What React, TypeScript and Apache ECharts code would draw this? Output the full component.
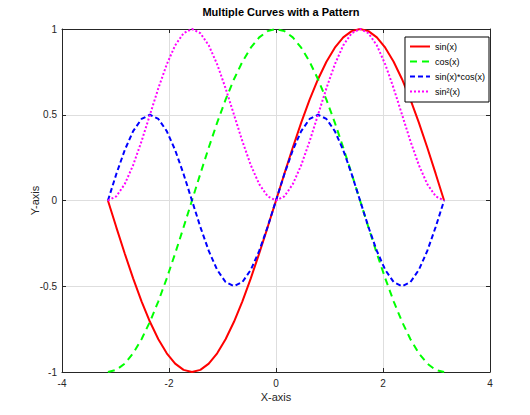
import { useEffect, useRef } from "react";
import * as echarts from "echarts";

// sample points along x, from -pi to pi
const xs = [
  -3.1416, -2.9845, -2.8274, -2.6704, -2.5133, -2.3562, -2.1991, -2.042, -1.885, -1.7279,
  -1.5708, -1.4137, -1.2566, -1.0996, -0.9425, -0.7854, -0.6283, -0.4712, -0.3142, -0.1571,
  0, 0.1571, 0.3142, 0.4712, 0.6283, 0.7854, 0.9425, 1.0996, 1.2566, 1.4137,
  1.5708, 1.7279, 1.885, 2.042, 2.1991, 2.3562, 2.5133, 2.6704, 2.8274, 2.9845, 3.1416,
];

const sinVals = [
  0, -0.1564, -0.309, -0.454, -0.5878, -0.7071, -0.809, -0.891, -0.9511, -0.9877,
  -1, -0.9877, -0.9511, -0.891, -0.809, -0.7071, -0.5878, -0.454, -0.309, -0.1564,
  0, 0.1564, 0.309, 0.454, 0.5878, 0.7071, 0.809, 0.891, 0.9511, 0.9877,
  1, 0.9877, 0.9511, 0.891, 0.809, 0.7071, 0.5878, 0.454, 0.309, 0.1564, 0,
];

const cosVals = [
  -1, -0.9877, -0.9511, -0.891, -0.809, -0.7071, -0.5878, -0.454, -0.309, -0.1564,
  0, 0.1564, 0.309, 0.454, 0.5878, 0.7071, 0.809, 0.891, 0.9511, 0.9877,
  1, 0.9877, 0.9511, 0.891, 0.809, 0.7071, 0.5878, 0.454, 0.309, 0.1564,
  0, -0.1564, -0.309, -0.454, -0.5878, -0.7071, -0.809, -0.891, -0.9511, -0.9877, -1,
];

const sinCosVals = [
  0, 0.1545, 0.2939, 0.4045, 0.4755, 0.5, 0.4755, 0.4045, 0.2939, 0.1545,
  0, -0.1545, -0.2939, -0.4045, -0.4755, -0.5, -0.4755, -0.4045, -0.2939, -0.1545,
  0, 0.1545, 0.2939, 0.4045, 0.4755, 0.5, 0.4755, 0.4045, 0.2939, 0.1545,
  0, -0.1545, -0.2939, -0.4045, -0.4755, -0.5, -0.4755, -0.4045, -0.2939, -0.1545, 0,
];

const sinSqVals = [
  0, 0.0245, 0.0955, 0.2061, 0.3455, 0.5, 0.6545, 0.7939, 0.9045, 0.9755,
  1, 0.9755, 0.9045, 0.7939, 0.6545, 0.5, 0.3455, 0.2061, 0.0955, 0.0245,
  0, 0.0245, 0.0955, 0.2061, 0.3455, 0.5, 0.6545, 0.7939, 0.9045, 0.9755,
  1, 0.9755, 0.9045, 0.7939, 0.6545, 0.5, 0.3455, 0.2061, 0.0955, 0.0245, 0,
];

const seriesNames = ["sin(x)", "cos(x)", "sin(x)*cos(x)", "sin²(x)"];

const pairs = (ys: number[]) => xs.map((x, i) => [x, ys[i]]);

const axisColor = "#262626";
const font = "'Liberation Sans', Arial, sans-serif";

export default function App() {
  const chartRef = useRef<HTMLDivElement | null>(null);

  useEffect(() => {
    if (!chartRef.current) return;
    document.body.style.margin = "0";
    const chart = echarts.init(chartRef.current, null, { renderer: "svg" });

    const baseX = {
      type: "value" as const,
      min: -4,
      max: 4,
      interval: 2,
      axisLine: { show: true, onZero: false, lineStyle: { color: axisColor, width: 1 } },
      axisTick: { show: true, inside: true, length: 4, lineStyle: { color: axisColor } },
    };
    const baseY = {
      type: "value" as const,
      min: -1,
      max: 1,
      interval: 0.5,
      axisLine: { show: true, onZero: false, lineStyle: { color: axisColor, width: 1 } },
      axisTick: { show: true, inside: true, length: 4, lineStyle: { color: axisColor } },
    };

    const option: echarts.EChartsOption = {
      animation: false,
      backgroundColor: "#fff",
      textStyle: { fontFamily: font },
      title: {
        text: "Multiple Curves with a Pattern",
        left: 276,
        top: 1,
        textAlign: "center",
        textStyle: { fontSize: 11, fontWeight: "bold", color: "#000", fontFamily: font },
      },
      grid: { left: 62, right: 40, top: 29, bottom: 43 },
      legend: {
        orient: "vertical",
        right: 41,
        top: 37,
        data: seriesNames,
        backgroundColor: "#fff",
        borderColor: "#000",
        borderWidth: 1,
        borderRadius: 0,
        padding: [5, 4, 6, 4],
        itemGap: 6,
        itemWidth: 20,
        itemHeight: 10,
        itemStyle: { opacity: 0 },
        textStyle: { fontSize: 9, color: "#000", fontFamily: font },
      },
      xAxis: [
        {
          ...baseX,
          position: "bottom",
          name: "X-axis",
          nameLocation: "middle",
          nameGap: 19,
          nameMoveOverlap: false,
          nameTextStyle: { fontSize: 11, color: axisColor, fontFamily: font },
          axisLabel: { color: axisColor, fontSize: 10, margin: 6, fontFamily: font },
          splitLine: { show: true, lineStyle: { color: "#dedede", width: 1 } },
        } as any,
        {
          ...baseX,
          position: "top",
          axisLabel: { show: false },
          splitLine: { show: false },
        },
      ],
      yAxis: [
        {
          ...baseY,
          position: "left",
          name: "Y-axis",
          nameLocation: "middle",
          nameGap: 22,
          nameMoveOverlap: false,
          nameTextStyle: { fontSize: 11, color: axisColor, fontFamily: font },
          axisLabel: { color: axisColor, fontSize: 10, margin: 5, fontFamily: font },
          splitLine: { show: true, lineStyle: { color: "#dedede", width: 1 } },
        } as any,
        {
          ...baseY,
          position: "right",
          axisLabel: { show: false },
          splitLine: { show: false },
        },
      ],
      series: [
        {
          name: seriesNames[0],
          type: "line",
          data: pairs(sinVals),
          showSymbol: false,
          symbol: "none",
          lineStyle: { color: "#ff0000", width: 2, type: "solid" },
          itemStyle: { color: "#ff0000" },
        },
        {
          name: seriesNames[1],
          type: "line",
          data: pairs(cosVals),
          showSymbol: false,
          symbol: "none",
          lineStyle: { color: "#00ff00", width: 2, type: [7, 5] },
          itemStyle: { color: "#00ff00" },
        },
        {
          name: seriesNames[2],
          type: "line",
          data: pairs(sinCosVals),
          showSymbol: false,
          symbol: "none",
          lineStyle: { color: "#0000ff", width: 2, type: [5, 3] },
          itemStyle: { color: "#0000ff" },
        },
        {
          name: seriesNames[3],
          type: "line",
          data: pairs(sinSqVals),
          showSymbol: false,
          symbol: "none",
          lineStyle: { color: "#ff00ff", width: 2, type: [2, 2] },
          itemStyle: { color: "#ff00ff" },
        },
      ],
    };

    chart.setOption(option);
    return () => {
      chart.dispose();
    };
  }, []);

  return <div ref={chartRef} style={{ width: "530px", height: "415px" }} />;
}
